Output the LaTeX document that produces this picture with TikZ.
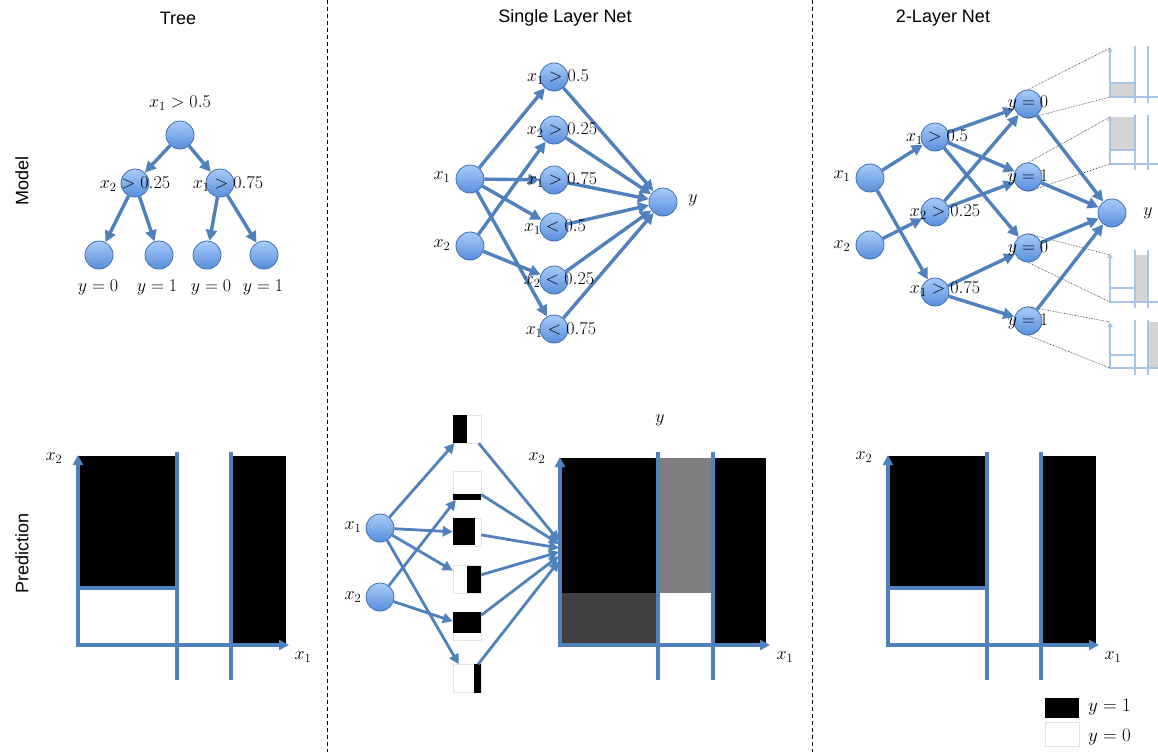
\documentclass[tikz,border=0pt]{standalone}
\usepackage{fix-cm}
\usepackage{fontspec}
\setsansfont{Liberation Sans}
\usetikzlibrary{arrows.meta,calc}
\definecolor{ablue}{RGB}{79,129,189}
\definecolor{nodeedge}{RGB}{62,110,178}
\definecolor{nodetop}{RGB}{168,203,248}
\definecolor{nodebot}{RGB}{88,142,220}
\definecolor{lightax}{RGB}{168,196,232}
\definecolor{plotgray}{RGB}{212,212,212}
\definecolor{midgray}{RGB}{126,126,126}
\definecolor{darkgray}{RGB}{64,64,64}
\tikzset{
  neuron/.style={circle, minimum size=28pt, inner sep=0pt, draw=nodeedge, line width=0.8pt, top color=nodetop, bottom color=nodebot},
  conn/.style={draw=ablue, line width=3.4pt, -{Triangle[length=11pt,width=11pt]}},
  thinconn/.style={draw=ablue, line width=2.8pt, -{Triangle[length=10pt,width=10pt]}},
  lbl/.style={font=\fontsize{18}{21}\selectfont, inner sep=0pt},
  leglbl/.style={font=\fontsize{19}{22}\selectfont, inner sep=0pt, anchor=west},
  ttl/.style={font=\sffamily\fontsize{18}{22}\selectfont, inner sep=0pt},
  axisline/.style={draw=ablue, line width=3.4pt, -{Triangle[length=10pt,width=10pt]}},
  divider/.style={draw=ablue, line width=3.4pt},
  sepline/.style={black, line width=0.8pt, dash pattern=on 4pt off 3pt},
  zoomline/.style={black!85, line width=0.6pt, densely dotted},
  miniax/.style={draw=lightax, line width=1.6pt, -{Triangle[length=5pt,width=5pt]}},
  minidiv/.style={draw=lightax, line width=1.6pt},
  minipl/.style={draw=black!10, fill=white, minimum size=28pt, inner sep=0pt, line width=0.5pt},
}
\begin{document}
\begin{tikzpicture}[x=1pt,y=-1pt]
\useasboundingbox (0,0) rectangle (1158,752);
\fill[white] (0,0) rectangle (1158,752);
\begin{scope}
\clip (0,0) rectangle (1158,752);

% separators
\coordinate (s1t) at (327,0); \coordinate (s1b) at (327,752);
\coordinate (s2t) at (812,0); \coordinate (s2b) at (812,752);
\draw[sepline] (s1t) -- (s1b);
\draw[sepline] (s2t) -- (s2b);

% titles
\node[ttl] (tTree) at (178,18) {Tree};
\node[ttl] (tSingle) at (565,18) {Single Layer Net};
\node[ttl] (tTwo) at (943,18) {2-Layer Net};
\node[ttl, rotate=90] (tModel) at (22,181) {Model};
\node[ttl, rotate=90] (tPred) at (22,553) {Prediction};

% ---------------- Tree model
\node[neuron] (r) at (180,135) {};
\node[neuron] (a) at (135,183) {};
\node[neuron] (b) at (220,183) {};
\node[neuron] (l1) at (99,255) {};
\node[neuron] (l2) at (159,255) {};
\node[neuron] (l3) at (207,255) {};
\node[neuron] (l4) at (264,255) {};
\draw[conn] (r) -- (a);
\draw[conn] (r) -- (b);
\draw[conn] (a) -- (l1);
\draw[conn] (a) -- (l2);
\draw[conn] (b) -- (l3);
\draw[conn] (b) -- (l4);
\node[lbl] (rl) at (180,103) {$x_1>0.5$};
\node[lbl] (al) at (135,184) {$x_2>0.25$};
\node[lbl] (bl) at (228,184) {$x_1>0.75$};
\node[lbl] (l1l) at (98,287) {$y=0$};
\node[lbl] (l2l) at (157,287) {$y=1$};
\node[lbl] (l3l) at (211,287) {$y=0$};
\node[lbl] (l4l) at (263,287) {$y=1$};

% ---------------- Single layer model
\node[neuron] (sx1) at (470,179) {};
\node[neuron] (sx2) at (470,246) {};
\node[neuron] (sh1) at (554,77) {};
\node[neuron] (sh2) at (554,130) {};
\node[neuron] (sh3) at (554,180) {};
\node[neuron] (sh4) at (554,227) {};
\node[neuron] (sh5) at (554,280) {};
\node[neuron] (sh6) at (554,329) {};
\node[neuron] (sy) at (663,202) {};
\draw[conn] (sx1) -- (sh1);
\draw[conn] (sx1) -- (sh3);
\draw[conn] (sx1) -- (sh4);
\draw[conn] (sx1) -- (sh6);
\draw[conn] (sx2) -- (sh2);
\draw[conn] (sx2) -- (sh5);
\foreach \i in {1,...,6} {\draw[conn] (sh\i) -- (sy);}
\node[lbl] (sx1l) at (442,177) {$x_1$};
\node[lbl] (sx2l) at (442,245) {$x_2$};
\node[lbl] (sh1l) at (558,77) {$x_1>0.5$};
\node[lbl] (sh2l) at (562,130) {$x_2>0.25$};
\node[lbl] (sh3l) at (562,180) {$x_1>0.75$};
\node[lbl] (sh4l) at (555,227) {$x_1<0.5$};
\node[lbl] (sh5l) at (559,280) {$x_2<0.25$};
\node[lbl] (sh6l) at (561,330) {$x_1<0.75$};
\node[lbl] (syl) at (693,200) {$y$};

% ---------------- 2-layer model: small zoom plots
% plot 1
\fill[plotgray] (1110,83) rectangle (1135,97);
\draw[minidiv] (1110,83) -- (1135,83);
\draw[minidiv] (1135,46) -- (1135,103);
\draw[minidiv] (1148,46) -- (1148,103);
\draw[miniax] (1110,98) -- (1110,47);
\draw[miniax] (1109,97) -- (1165,97);
% plot 2
\fill[plotgray] (1110,117) rectangle (1135,150);
\draw[minidiv] (1110,150) -- (1135,150);
\draw[minidiv] (1135,115) -- (1135,170);
\draw[minidiv] (1148,115) -- (1148,170);
\draw[miniax] (1110,165) -- (1110,116);
\draw[miniax] (1109,164) -- (1165,164);
% plot 3
\fill[plotgray] (1135,255) rectangle (1148,302);
\draw[minidiv] (1110,288) -- (1135,288);
\draw[minidiv] (1135,250) -- (1135,308);
\draw[minidiv] (1148,250) -- (1148,308);
\draw[miniax] (1110,303) -- (1110,253);
\draw[miniax] (1109,302) -- (1165,302);
% plot 4
\fill[plotgray] (1148,322) rectangle (1165,368);
\draw[minidiv] (1110,355) -- (1135,355);
\draw[minidiv] (1135,320) -- (1135,375);
\draw[minidiv] (1148,320) -- (1148,375);
\draw[miniax] (1110,369) -- (1110,322);
\draw[miniax] (1109,368) -- (1165,368);

\coordinate (p1t) at (1110,48);  \coordinate (p1b) at (1110,97);
\coordinate (p2t) at (1110,117); \coordinate (p2b) at (1110,164);
\coordinate (p3t) at (1110,255); \coordinate (p3b) at (1110,302);
\coordinate (p4t) at (1110,322); \coordinate (p4b) at (1110,368);

% 2-layer network
\node[neuron] (tx1) at (870,178) {};
\node[neuron] (tx2) at (870,245) {};
\node[neuron] (th1) at (935,137) {};
\node[neuron] (th2) at (935,212) {};
\node[neuron] (th3) at (935,292) {};
\node[neuron] (tg1) at (1028,104) {};
\node[neuron] (tg2) at (1028,177) {};
\node[neuron] (tg3) at (1028,248) {};
\node[neuron] (tg4) at (1028,321) {};
\node[neuron] (ty) at (1112,213) {};
\foreach \i in {1,...,4} {
  \draw[zoomline] (tg\i.north) -- (p\i t);
  \draw[zoomline] (tg\i.south) -- (p\i b);
}
\draw[conn] (tx1) -- (th1);
\draw[conn] (tx1) -- (th3);
\draw[conn] (tx2) -- (th2);
\draw[conn] (th1) -- (tg1);
\draw[conn] (th1) -- (tg2);
\draw[conn] (th1) -- (tg3);
\draw[conn] (th2) -- (tg1);
\draw[conn] (th2) -- (tg2);
\draw[conn] (th3) -- (tg3);
\draw[conn] (th3) -- (tg4);
\foreach \i in {1,...,4} {\draw[conn] (tg\i) -- (ty);}
\node[lbl] (tx1l) at (842,176) {$x_1$};
\node[lbl] (tx2l) at (842,246) {$x_2$};
\node[lbl] (th1l) at (937,137) {$x_1>0.5$};
\node[lbl] (th2l) at (945,212) {$x_2>0.25$};
\node[lbl] (th3l) at (945,289) {$x_1>0.75$};
\node[lbl] (tg1l) at (1028,103) {$y=0$};
\node[lbl] (tg2l) at (1028,177) {$y=1$};
\node[lbl] (tg3l) at (1028,248) {$y=0$};
\node[lbl] (tg4l) at (1028,321) {$y=1$};
\node[lbl] (tyl) at (1148,213) {$y$};

% ---------------- Tree prediction
\fill[black] (78,456) rectangle (176,588);
\fill[black] (231,456) rectangle (286,645);
\draw[divider] (78,588) -- (177,588);
\draw[divider] (177,452) -- (177,680);
\draw[divider] (231,452) -- (231,680);
\coordinate (tpo) at (78,646.7); \coordinate (tpy) at (78,455);
\coordinate (tpo2) at (76.3,645); \coordinate (tpx) at (289,645);
\draw[axisline] (tpo) -- (tpy);
\draw[axisline] (tpo2) -- (tpx);
\node[lbl] (tpxl) at (303,657) {$x_1$};
\node[lbl] (tpyl) at (54,458) {$x_2$};

% ---------------- Single layer prediction
\node[neuron] (px1) at (380,528) {};
\node[neuron] (px2) at (380,597) {};
\node[lbl] (px1l) at (353,527) {$x_1$};
\node[lbl] (px2l) at (353,597) {$x_2$};
\node[minipl] (m1) at (467,429) {};
\node[minipl] (m2) at (467,485.5) {};
\node[minipl] (m3) at (467,532.5) {};
\node[minipl] (m4) at (467,579) {};
\node[minipl] (m5) at (467,626) {};
\node[minipl] (m6) at (467,678.5) {};
\fill[black] (m1.north west) rectangle ($(m1.south west)+(14,0)$);
\fill[black] ($(m2.south west)+(0,-6)$) rectangle (m2.south east);
\fill[black] (m3.north west) rectangle ($(m3.south east)+(-6,-2)$);
\fill[black] ($(m4.north east)+(-14,1)$) rectangle (m4.south east);
\fill[black] (m5.north west) rectangle ($(m5.south east)+(0,-7)$);
\fill[black] ($(m6.north east)+(-7,0)$) rectangle (m6.south east);
\draw[thinconn] (px1) -- (m1);
\draw[thinconn] (px1) -- (m3);
\draw[thinconn] (px1) -- (m4);
\draw[thinconn] (px1) -- (m6);
\draw[thinconn] (px2) -- (m2);
\draw[thinconn] (px2) -- (m5);

% big plot
\fill[black] (560,458) rectangle (766,645);
\fill[midgray] (658,458) rectangle (712,593);
\fill[darkgray] (560,593) rectangle (658,645);
\fill[white] (658,593) rectangle (712,645);
\draw[divider] (658,452) -- (658,680);
\draw[divider] (713,452) -- (713,680);
\coordinate (bpo) at (560,646.7); \coordinate (bpy) at (560,457);
\coordinate (bpo2) at (558.3,645); \coordinate (bpx) at (770,645);
\draw[axisline] (bpo) -- (bpy);
\draw[axisline] (bpo2) -- (bpx);
\node[lbl] (bpxl) at (785,657) {$x_1$};
\node[lbl] (bpyl) at (537,458) {$x_2$};
\node[lbl] (bpt) at (660,420) {$y$};
\coordinate (c1) at (559,541);
\coordinate (c2) at (559,544);
\coordinate (c3) at (559,548);
\coordinate (c4) at (559,552);
\coordinate (c5) at (559,556);
\coordinate (c6) at (559,561);
\foreach \i in {1,...,6} {\draw[thinconn] (m\i) -- (c\i);}

% ---------------- 2-layer prediction
\fill[black] (888,456) rectangle (986,588);
\fill[black] (1041,456) rectangle (1096,645);
\draw[divider] (888,588) -- (987,588);
\draw[divider] (987,452) -- (987,680);
\draw[divider] (1041,452) -- (1041,680);
\coordinate (qpo) at (888,646.7); \coordinate (qpy) at (888,455);
\coordinate (qpo2) at (886.3,645); \coordinate (qpx) at (1099,645);
\draw[axisline] (qpo) -- (qpy);
\draw[axisline] (qpo2) -- (qpx);
\node[lbl] (qpxl) at (1113,657) {$x_1$};
\node[lbl] (qpyl) at (864,457) {$x_2$};

% legend
\node[fill=black, minimum width=34pt, minimum height=20pt, inner sep=0pt] (leg1) at (1062,708) {};
\node[fill=white, draw=black!12, line width=0.8pt, minimum width=34pt, minimum height=24pt, inner sep=0pt] (leg0) at (1062,734) {};
\node[leglbl] (leg1l) at (1088,707) {$y=1$};
\node[leglbl] (leg0l) at (1088,737) {$y=0$};
\end{scope}
\end{tikzpicture}
\end{document}
